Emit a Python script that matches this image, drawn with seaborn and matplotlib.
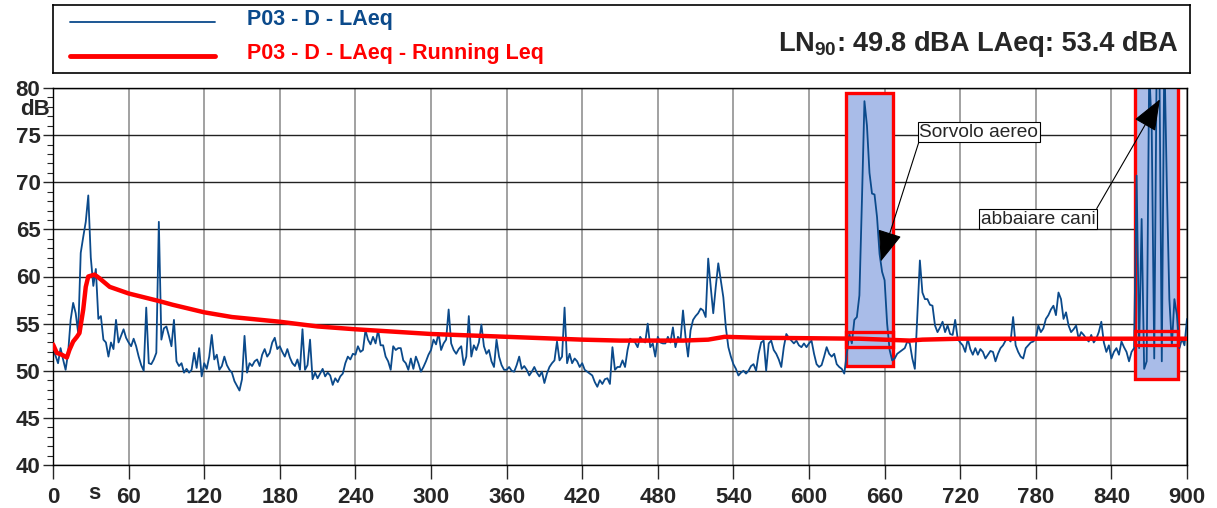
import numpy as np
import matplotlib
matplotlib.use("Agg")
import matplotlib.pyplot as plt
from matplotlib.patches import Rectangle
import seaborn as sns

sns.set_style("white")
plt.rcParams['font.family'] = ['Liberation Sans', 'DejaVu Sans']
plt.rcParams['mathtext.fontset'] = 'custom'
plt.rcParams['mathtext.rm'] = 'Liberation Sans:bold'
plt.rcParams['mathtext.bf'] = 'Liberation Sans:bold'

# -----------------------------------------------------------------
# DATA (LAeq every 2 s)
# -----------------------------------------------------------------
step_s = 2
laeq_000_298 = [
    52.3, 51.6, 50.8, 52.4, 51.2, 50.1, 51.9, 55.4, 57.2, 56.1, 54.0, 62.5, 64.2, 65.8, 68.6,
    62.0, 59.0, 60.8, 55.5, 55.8, 53.3, 53.0, 51.5, 53.0, 52.3, 55.4, 53.0, 53.7, 54.4, 53.5,
    53.0, 52.6, 53.4, 52.6, 51.5, 50.6, 50.0, 56.7, 50.8, 50.7, 51.2, 51.9, 65.8, 53.3, 54.5,
    54.7, 53.7, 52.6, 55.4, 51.0, 50.5, 50.8, 49.8, 50.2, 49.8, 50.1, 51.9, 50.3, 52.4, 49.4,
    50.8, 50.2, 51.5, 53.8, 51.2, 51.7, 50.1, 50.5, 51.5, 50.6, 50.1, 49.8, 48.9, 48.4, 47.9,
    49.1, 53.7, 49.8, 50.8, 50.5, 51.0, 51.2, 50.5, 51.7, 52.3, 51.5, 51.9, 53.0, 53.5, 52.3,
    52.6, 52.0, 51.5, 52.3, 51.4, 50.8, 50.5, 51.2, 50.1, 54.4, 50.1, 50.6, 53.3, 49.1, 49.8,
    49.2, 49.7, 50.2, 49.4, 49.8, 49.5, 48.5, 49.2, 48.8, 49.4, 49.7, 50.8, 51.5, 51.2, 51.8,
    51.7, 52.6, 52.0, 52.2, 54.3, 53.3, 52.8, 53.6, 52.9, 54.3, 52.7, 52.7, 51.5, 51.0, 50.1,
    52.6, 52.2, 52.4, 52.4, 51.1, 50.8, 50.1, 51.3, 50.2, 51.5, 50.8, 49.9, 50.4, 51.0, 51.7,
]
laeq_300_598 = [
    52.2, 53.3, 52.8, 54.0, 52.2, 52.9, 53.3, 56.5, 52.9, 52.2, 51.8, 52.3, 52.6, 50.6, 51.5,
    55.8, 51.5, 52.7, 52.2, 53.0, 54.9, 52.6, 51.8, 52.2, 51.0, 50.4, 53.3, 51.5, 50.6, 50.1,
    50.1, 50.4, 50.0, 49.9, 50.6, 51.5, 50.2, 50.5, 50.1, 49.5, 49.9, 50.4, 49.8, 49.4, 49.9,
    48.7, 49.7, 50.4, 50.8, 51.1, 53.1, 51.1, 51.5, 56.7, 50.8, 51.8, 50.8, 51.3, 51.0, 50.4,
    50.8, 50.1, 49.9, 49.7, 49.5, 48.8, 48.3, 49.0, 48.6, 49.1, 49.2, 48.6, 52.5, 50.1, 50.4,
    50.4, 51.1, 50.4, 52.2, 53.4, 53.2, 53.0, 52.5, 53.6, 53.2, 53.0, 55.0, 52.5, 52.9, 51.5,
    53.6, 53.0, 52.9, 52.9, 53.6, 53.0, 54.6, 52.5, 53.6, 53.2, 56.4, 53.6, 51.5, 54.3, 55.4,
    55.8, 56.1, 56.6, 56.4, 55.7, 61.9, 58.9, 56.1, 58.9, 61.4, 59.6, 57.8, 54.6, 52.5, 51.5,
    50.7, 50.2, 49.5, 49.8, 50.0, 49.7, 50.0, 50.5, 50.7, 50.0, 51.8, 53.0, 53.2, 50.0, 52.9,
    53.2, 52.2, 51.8, 51.2, 50.4, 52.5, 53.9, 53.5, 53.2, 52.9, 53.2, 52.7, 52.5, 52.9, 52.5,
]
laeq_600_900 = [
    52.9, 53.2, 51.8, 50.7, 50.4, 50.6, 51.5, 52.5, 51.8, 51.5, 51.8, 50.7, 50.4, 50.2, 49.7,
    51.8, 53.9, 52.9, 55.4, 55.7, 58.0, 68.0, 78.6, 76.0, 71.0, 68.8, 68.7, 66.3, 62.4, 60.5,
    59.6, 55.0, 52.2, 51.1, 51.3, 51.8, 52.0, 52.2, 52.4, 53.1, 52.9, 51.3, 50.2, 56.0, 61.7,
    58.3, 57.6, 57.6, 57.0, 56.9, 54.8, 54.1, 54.6, 55.2, 54.1, 54.8, 53.9, 53.8, 55.4, 53.4,
    53.0, 52.7, 52.0, 53.4, 52.3, 51.7, 52.4, 51.7, 52.3, 52.0, 51.3, 51.7, 52.1, 52.0, 51.0,
    51.8, 52.4, 52.7, 53.2, 53.4, 53.1, 55.7, 52.7, 52.0, 51.5, 51.3, 52.4, 52.7, 53.0, 53.1,
    53.4, 54.8, 54.1, 54.5, 55.5, 55.9, 56.5, 56.9, 55.9, 58.3, 57.6, 55.5, 56.2, 54.8, 54.1,
    54.4, 54.8, 53.4, 54.1, 53.8, 53.4, 53.1, 53.8, 53.0, 53.4, 54.1, 55.2, 53.0, 52.0, 52.7,
    51.3, 52.0, 52.4, 51.7, 53.1, 52.5, 52.0, 51.0, 52.0, 52.4, 70.7, 52.4, 66.1, 50.2, 51.0,
    82.0, 75.6, 51.3, 84.0, 84.0, 51.0, 84.0, 69.6, 57.6, 52.7, 57.6, 55.9, 52.4, 53.4, 52.7,
    55.5,
]

# running Leq (red curve)
leq_t = [0, 3, 7, 11, 13, 16, 19, 21, 24, 26, 28, 33, 37, 45, 60, 84, 95, 120, 142, 180,
         210, 240, 300, 360, 420, 450, 500, 520, 533, 560, 640, 680, 690, 720, 900]
leq_v = [52.8, 51.9, 51.7, 51.4, 52.2, 53.1, 53.6, 54.0, 56.5, 58.9, 60.0, 60.2, 59.8, 58.9,
         58.2, 57.4, 57.0, 56.2, 55.7, 55.2, 54.7, 54.4, 53.9, 53.6, 53.3, 53.2, 53.2, 53.3,
         53.6, 53.5, 53.4, 53.2, 53.3, 53.4, 53.4]

# masked events
event_start = [629.5, 859.0]
event_end = [666.5, 892.5]
event_low = [50.5, 49.1]
event_high = [79.5, 82.0]
event_leq_low = [52.5, 52.7]
event_leq_high = [54.1, 54.2]

labels = ['Sorvolo aereo', 'abbaiare cani']
label_xy = [(687.5, 75.3), (736.5, 66.1)]
arrow_tip = [(657.0, 61.6), (878.5, 78.8)]

ln90 = 49.8
laeq_tot = 53.4

laeq = np.array(laeq_000_298 + laeq_300_598 + laeq_600_900)
t = np.arange(len(laeq)) * step_s

BLUE = '#0b4a8b'
RED = '#ff0000'
W, H = 1217, 508

# -----------------------------------------------------------------
# FIGURE
# -----------------------------------------------------------------
fig = plt.figure(figsize=(W / 100, H / 100), dpi=100)
ax = fig.add_axes([53 / W, 1 - 465 / H, (1187 - 53) / W, (465 - 88) / H])

for s, e, lo, hi in zip(event_start, event_end, event_low, event_high):
    ax.add_patch(Rectangle((s, lo), e - s, hi - lo, facecolor='#a9bce8',
                           edgecolor=RED, lw=2.4, zorder=1.5))

sns.lineplot(x=t, y=laeq, color=BLUE, lw=1.3, ax=ax, zorder=2)
sns.lineplot(x=leq_t, y=leq_v, color=RED, lw=3.2, ax=ax, zorder=3)

for s, e, lo, hi in zip(event_start, event_end, event_leq_low, event_leq_high):
    ax.add_patch(Rectangle((s, lo), e - s, hi - lo, facecolor='none',
                           edgecolor=RED, lw=2.4, zorder=4))

for txt, xy, tip, rel in zip(labels, label_xy, arrow_tip, [(0, 0), (1, 1)]):
    ax.annotate(txt, xy=tip, xytext=xy, fontsize=13.8, va='center', ha='left',
                bbox=dict(boxstyle='square,pad=0.08', fc='white', ec='black', lw=0.8),
                arrowprops=dict(arrowstyle='-|>,head_length=0.9,head_width=0.35',
                                mutation_scale=22, color='black', lw=0.8,
                                shrinkA=0, shrinkB=0, relpos=rel),
                zorder=6)

ax.set_xlim(0, 900)
ax.set_ylim(40, 80)
ax.set_xticks(range(0, 901, 60))
ax.set_yticks(range(40, 81, 5))
ax.set_yticks(range(40, 81, 1), minor=True)
ax.set_xticklabels([str(v) for v in range(0, 901, 60)], fontsize=16, fontweight='bold')
ax.set_yticklabels([str(v) for v in range(40, 81, 5)], fontsize=16, fontweight='bold')
ax.tick_params(axis='x', which='major', length=10, width=1, pad=6, direction='out', bottom=True)
ax.tick_params(axis='y', which='major', length=7, width=1, pad=2, direction='out', left=True)
ax.tick_params(axis='y', which='minor', length=4, width=0.8, direction='out', left=True)
ax.grid(axis='y', which='major', color='#222222', lw=1.0)
ax.grid(axis='x', which='major', color='#9a9a9a', lw=1.3)
ax.set_axisbelow(True)
for sp in ax.spines.values():
    sp.set_color('black')
    sp.set_linewidth(1.0)
ax.set_xlabel('')
ax.set_ylabel('')
ax.text(33, 37.0, 's', fontsize=16, fontweight='bold', ha='center', va='center',
        clip_on=False)
ax.text(-14.5, 77.7, 'dB', fontsize=16, fontweight='bold', ha='center', va='center',
        clip_on=False)

# header (legend + summary values)
hx = fig.add_axes([53 / W, 1 - 73 / H, (1190 - 53) / W, (73 - 5) / H])
hx.set_xlim(53, 1190)
hx.set_ylim(73, 5)
hx.set_xticks([])
hx.set_yticks([])
for sp in hx.spines.values():
    sp.set_color('black')
    sp.set_linewidth(1.2)
hx.plot([70, 215], [22, 22], color=BLUE, lw=1.3)
hx.plot([70, 215], [56, 56], color=RED, lw=3.5)
hx.text(247, 20, 'P03 - D - LAeq', color=BLUE, fontsize=15.5, fontweight='bold', va='center')
hx.text(247, 54, 'P03 - D - LAeq - Running Leq', color=RED, fontsize=15.5,
        fontweight='bold', va='center')
hx.text(1178, 44, f'LAeq: {laeq_tot:.1f} dBA', fontsize=19.5, fontweight='bold',
        ha='right', va='center')
hx.text(970, 44, 'LN$_{90}$: ' + f'{ln90:.1f} dBA', fontsize=19.5, fontweight='bold',
        ha='right', va='center')

fig.savefig('out.png', dpi=100)
